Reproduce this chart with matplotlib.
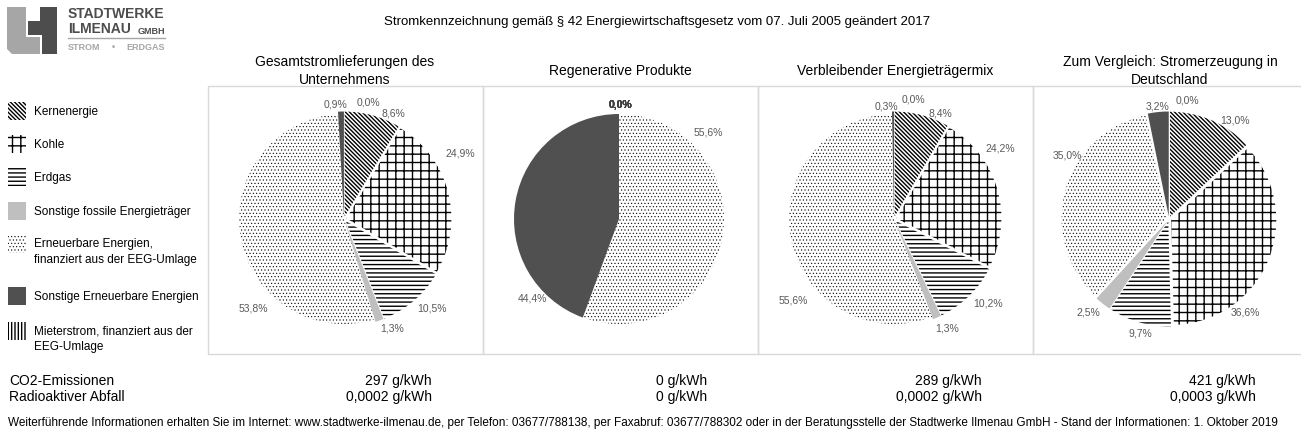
import matplotlib
matplotlib.use("Agg")
import matplotlib.pyplot as plt
from matplotlib.patches import Rectangle, Polygon

plt.rcParams['font.family'] = ['Liberation Sans', 'DejaVu Sans']
plt.rcParams['hatch.linewidth'] = 1.0

# Daten
energietraeger = ["Kernenergie", "Kohle", "Erdgas", "Sonstige fossile Energieträger",
                  "Erneuerbare Energien,\nfinanziert aus der EEG-Umlage",
                  "Sonstige Erneuerbare Energien",
                  "Mieterstrom, finanziert aus der\nEEG-Umlage"]
titel = ["Gesamtstromlieferungen des\nUnternehmens", "Regenerative Produkte",
         "Verbleibender Energieträgermix", "Zum Vergleich: Stromerzeugung in\nDeutschland"]
gesamt = [8.6, 24.9, 10.5, 1.3, 53.8, 0.9, 0.0]
regenerativ = [0.0, 0.0, 0.0, 0.0, 55.6, 44.4, 0.0]
verbleibend = [8.4, 24.2, 10.2, 1.3, 55.6, 0.3, 0.0]
deutschland = [13.0, 36.6, 9.7, 2.5, 35.0, 3.2, 0.0]
co2 = ["297 g/kWh", "0 g/kWh", "289 g/kWh", "421 g/kWh"]
abfall = ["0,0002 g/kWh", "0 g/kWh", "0,0002 g/kWh", "0,0003 g/kWh"]

farben = ["white", "white", "white", "#bfbfbf", "white", "#505050", "white"]
muster = ["\\\\\\\\\\\\\\\\", "++", "----", None, ".....", None, "|||||"]
muster_lw = [1.0, 1.0, 1.0, 0, 0.4, 0, 1.0]

# Lage der Prozentbeschriftungen (Pixel relativ zur Kuchenmitte, wie Excel "optimale Anpassung")
label_lage = [
    [(49, 106), (116, 66), (88, -89), (48, -109), (-91, -89), (-9, 115), (24, 117)],
    [(1, 115), (1, 115), (1, 115), (1, 115), (89, 87), (-87, -79), (1, 115)],
    [(46, 106), (106, 71), (94, -84), (53, -109), (-101, -81), (-8, 113), (19, 120)],
    [(66, 99), (76, -93), (-29, -114), (-81, -93), (-102, 64), (-11, 113), (18, 119)],
]


def schraffur(p, m, lw):
    p.set_hatch(m)
    p.set_edgecolor("black")
    p.set_linewidth(0)
    if hasattr(p, "set_hatch_linewidth"):
        p.set_hatch_linewidth(lw)
    else:
        p._hatch_linewidth = lw


W, H = 1301, 439
fig = plt.figure(figsize=(W / 100, H / 100), dpi=100)
bg = fig.add_axes([0, 0, 1, 1])
bg.set_xlim(0, W)
bg.set_ylim(H, 0)
bg.axis("off")

# Logo
bg.add_patch(Polygon([(7, 8), (26, 8), (26, 38), (40, 38), (40, 55), (12, 55), (7, 50)],
                     closed=True, color="#a6a6a6", lw=0))
bg.add_patch(Polygon([(28, 8), (57, 8), (57, 55), (42, 55), (42, 36), (28, 36), (28, 22), (40, 22), (40, 8)],
                     closed=True, color="#4d4d4d", lw=0))
bg.text(68, 14, "STADTWERKE", fontsize=10, fontweight="bold", color="#4d4d4d", va="center")
bg.text(68, 29, "ILMENAU", fontsize=10, fontweight="bold", color="#4d4d4d", va="center")
bg.text(165, 31, "GMBH", fontsize=6.5, fontweight="bold", color="#4d4d4d", va="center", ha="right")
bg.plot([68, 165], [39, 39], color="#a6a6a6", lw=1)
bg.text(68, 48, "STROM", fontsize=6.5, fontweight="bold", color="#a6a6a6", va="center")
bg.text(113, 48, "•", fontsize=6.5, fontweight="bold", color="#a6a6a6", va="center", ha="center")
bg.text(165, 48, "ERDGAS", fontsize=6.5, fontweight="bold", color="#a6a6a6", va="center", ha="right")

bg.text(657, 22, "Stromkennzeichnung gemäß § 42 Energiewirtschaftsgesetz vom 07. Juli 2005 geändert 2017",
        fontsize=9.5, ha="center", va="center")

# Rahmen der Panels
links = [208, 483, 758, 1033]
for i, x0 in enumerate(links):
    bg.add_patch(Rectangle((x0, 87), 275, 268, fill=False, ec="#d9d9d9", lw=1))
    bg.text(x0 + 137, 71, titel[i], fontsize=10, ha="center", va="center", linespacing=1.3)

# Legende
leg_y = [112, 145, 178, 212, 245, 297, 332]
for i, name in enumerate(energietraeger):
    y = leg_y[i]
    r = Rectangle((8, y - 9), 18, 18, facecolor=farben[i], lw=0)
    bg.add_patch(r)
    if muster[i]:
        schraffur(r, muster[i], muster_lw[i])
    ty = y + 7 if "\n" in name else y
    bg.text(34, ty, name, fontsize=8.5, va="center", linespacing=1.35)

# Kuchen
daten = [gesamt, regenerativ, verbleibend, deutschland]
mitten = [344, 619, 894, 1169]
cy = 220
for k, werte in enumerate(daten):
    ax = fig.add_axes([(mitten[k] - 140) / W, 1 - (cy + 140) / H, 280 / W, 280 / H])
    explode = [0.025 if v < 40 else 0 for v in werte]
    wedges, _ = ax.pie(werte, colors=farben, startangle=90, counterclock=False,
                       radius=1.05, explode=explode, wedgeprops=dict(lw=0))
    for w, m, lw in zip(wedges, muster, muster_lw):
        if m:
            schraffur(w, m, lw)
    for i, v in enumerate(werte):
        dx, dy = label_lage[k][i]
        fett = werte[0] == 0 and v == 0
        ax.text(dx / 100, dy / 100, f"{v:.1f}%".replace(".", ","), fontsize=7.5,
                color="#404040" if fett else "#595959", fontweight="bold" if fett else "normal",
                ha="center", va="center")
    ax.set_xlim(-1.4, 1.4)
    ax.set_ylim(-1.4, 1.4)
    ax.set_aspect("equal")

# Emissionen
bg.text(9, 381, "CO2-Emissionen", fontsize=10, va="center")
bg.text(9, 397, "Radioaktiver Abfall", fontsize=10, va="center")
rechts = [432, 707, 982, 1256]
for i, x in enumerate(rechts):
    bg.text(x, 381, co2[i], fontsize=10, va="center", ha="right")
    bg.text(x, 397, abfall[i], fontsize=10, va="center", ha="right")

bg.text(8, 423, "Weiterführende Informationen erhalten Sie im Internet: www.stadtwerke-ilmenau.de, "
        "per Telefon: 03677/788138, per Faxabruf: 03677/788302 oder in der Beratungsstelle der "
        "Stadtwerke Ilmenau GmbH - Stand der Informationen: 1. Oktober 2019",
        fontsize=8.5, va="center")

fig.savefig("out.png", dpi=100)
